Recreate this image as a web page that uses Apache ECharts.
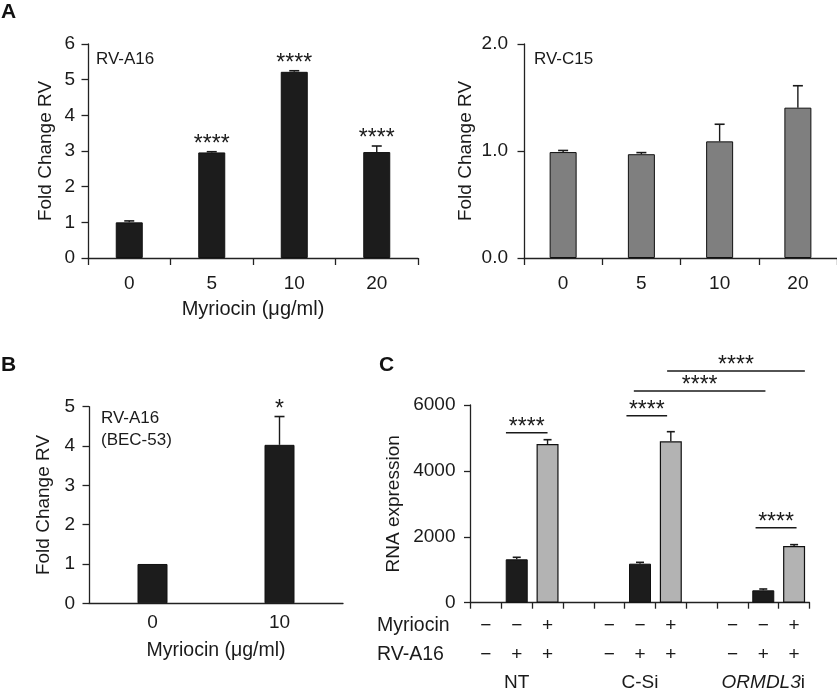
<!DOCTYPE html>
<html><head><meta charset="utf-8">
<script src="https://cdn.jsdelivr.net/npm/echarts@6/dist/echarts.min.js"></script>
<style>html,body{margin:0;padding:0;background:#fff}#c{width:837px;height:695px}</style>
</head><body><div id="c"></div>
<script>
// ---- Panel A (left): RV-A16 ----
const doseA = ['0', '5', '10', '20'];
const a16Mean = [1.0, 2.96, 5.22, 2.97];
const a16ErrTop = [1.04, 2.98, 5.25, 3.14];
const a16Sig = ['', '****', '****', '****'];
// ---- Panel A (right): RV-C15 ----
const c15Mean = [0.99, 0.97, 1.09, 1.405];
const c15ErrTop = [1.005, 0.985, 1.25, 1.61];
// ---- Panel B: RV-A16 (BEC-53) ----
const doseB = ['0', '10'];
const becMean = [1.0, 4.03];
const becErrTop = [1.0, 4.75];
const becSig = ['', '*'];
// ---- Panel C: RNA expression ----
const cCats = ['NT-a', 'NT-b', 'NT-c', 'gap1', 'CSi-a', 'CSi-b', 'CSi-c', 'gap2', 'OR-a', 'OR-b', 'OR-c'];
const myriocinRow = ['−', '−', '+', '', '−', '−', '+', '', '−', '−', '+'];
const rvRow = ['−', '+', '+', '', '−', '+', '+', '', '−', '+', '+'];
const groupRow = ['', 'NT', '', '', '', 'C-Si', '', '', '', 'ORMDL3', ''];
const rnaNoMyr = [null, 1317, null, null, null, 1184, null, null, null, 376, null];
const rnaNoMyrErrTop = [null, 1378, null, null, null, 1225, null, null, null, 416, null];
const rnaMyr = [null, null, 4816, null, null, null, 4898, null, null, null, 1721];
const rnaMyrErrTop = [null, null, 4947, null, null, null, 5190, null, null, null, 1762];
// significance brackets: [from category pos, to category pos, y value, label]
const brackets = [
  [0.65, 2.0, 5160, '****'],
  [4.56, 5.88, 5675, '****'],
  [4.8, 9.07, 6425, '****'],
  [5.88, 10.35, 7032, '****'],
  [8.75, 10.08, 2276, '****']
];

const FONT = "'Liberation Sans', Arial, sans-serif";
const INK = '#1a1a1a';
const AX = '#222';
const STAR_SIZE = 23;

function xAx(grid, data, opts) {
  return Object.assign({
    type: 'category', gridIndex: grid, data: data,
    axisLine: { show: true, lineStyle: { color: AX, width: 1.3 } },
    axisTick: { show: true, length: 7, lineStyle: { color: AX, width: 1.3 } },
    axisLabel: { interval: 0, fontSize: 19, color: INK, fontFamily: FONT, margin: 16 },
    splitLine: { show: false }
  }, opts || {});
}
function yAx(grid, min, max, interval, name, gap, opts) {
  return Object.assign({
    type: 'value', gridIndex: grid, min: min, max: max, interval: interval,
    name: name, nameLocation: 'middle', nameGap: gap,
    nameTextStyle: { fontSize: 19, color: INK, fontFamily: FONT },
    axisLine: { show: true, lineStyle: { color: AX, width: 1.3 } },
    axisTick: { show: true, length: 6.5, lineStyle: { color: AX, width: 1.3 } },
    axisLabel: { fontSize: 19, color: INK, fontFamily: FONT, margin: 13 },
    splitLine: { show: false }
  }, opts || {});
}

function errSeries(xi, yi, means, tops, sigs, capHalf) {
  const data = [];
  means.forEach((m, i) => { if (m != null && tops[i] != null) data.push([i, m, tops[i], i]); });
  return {
    type: 'custom', xAxisIndex: xi, yAxisIndex: yi, clip: false, z: 5,
    data: data,
    renderItem: function (params, api) {
      const x = api.value(0), v = api.value(1), e = api.value(2), idx = api.value(3);
      const p0 = api.coord([x, v]), p1 = api.coord([x, e]);
      const children = [];
      if (Math.abs(p0[1] - p1[1]) > 0.5) {
        children.push({ type: 'line', shape: { x1: p0[0], y1: p0[1], x2: p1[0], y2: p1[1] }, style: { stroke: INK, lineWidth: 1.4 } });
        children.push({ type: 'line', shape: { x1: p1[0] - capHalf, y1: p1[1], x2: p1[0] + capHalf, y2: p1[1] }, style: { stroke: INK, lineWidth: 1.6 } });
      }
      const s = sigs ? sigs[idx] : '';
      if (s) {
        children.push({ type: 'text', x: p1[0], y: p1[1] - 7, style: { text: s, fontSize: STAR_SIZE, fontFamily: FONT, fill: INK, align: 'center', verticalAlign: 'middle' } });
      }
      return { type: 'group', children: children };
    }
  };
}

const chart = echarts.init(document.getElementById('c'), null, { renderer: 'canvas' });
const option = {
  backgroundColor: '#fff',
  animation: false,
  textStyle: { fontFamily: FONT },
  grid: [
    { left: 88, top: 44, width: 330, height: 214 },
    { left: 524, top: 44, width: 313, height: 214 },
    { left: 89, top: 406.7, width: 254, height: 196.6 },
    { left: 470.5, top: 405, width: 339, height: 197.7 }
  ],
  xAxis: [
    xAx(0, doseA, { name: 'Myriocin (μg/ml)', nameLocation: 'middle', nameGap: 41, nameTextStyle: { fontSize: 20, color: INK, fontFamily: FONT } }),
    xAx(1, doseA),
    xAx(2, doseB, { axisTick: { show: false }, axisLabel: { interval: 0, fontSize: 19, color: INK, fontFamily: FONT, margin: 10 }, name: 'Myriocin (μg/ml)', nameLocation: 'middle', nameGap: 37, nameTextStyle: { fontSize: 19.5, color: INK, fontFamily: FONT } }),
    xAx(3, cCats, {
      axisTick: { show: true, length: 6, lineStyle: { color: AX, width: 1.3 } },
      axisLabel: {
        interval: 0, margin: 9, color: INK, fontFamily: FONT, fontSize: 19,
        formatter: function (val, i) {
          const m = myriocinRow[i] || ' ', r = rvRow[i] || ' ', g = groupRow[i];
          let third = '{g| }';
          if (g === 'ORMDL3') third = '{gi|ORMDL3}{g|i}';
          else if (g) third = '{g|' + g + '}';
          return '{a|' + m + '}\n{a|' + r + '}\n' + third;
        },
        rich: {
          a: { fontSize: 19, lineHeight: 29, fontFamily: FONT, color: INK },
          g: { fontSize: 19, lineHeight: 27, fontFamily: FONT, color: INK },
          gi: { fontSize: 19, lineHeight: 27, fontFamily: FONT, color: INK, fontStyle: 'italic' }
        }
      }
    })
  ],
  yAxis: [
    yAx(0, 0, 6, 1, 'Fold Change RV', 33),
    yAx(1, 0, 2, 1, 'Fold Change RV', 49, { axisLabel: { fontSize: 19, color: INK, fontFamily: FONT, margin: 16, formatter: v => v.toFixed(1) } }),
    yAx(2, 0, 5, 1, 'Fold Change RV', 36, { axisLabel: { fontSize: 19, color: INK, fontFamily: FONT, margin: 14 } }),
    yAx(3, 0, 6000, 2000, 'RNA expression', 67, { axisLabel: { fontSize: 19, color: INK, fontFamily: FONT, margin: 15, formatter: v => String(v) } })
  ],
  graphic: [
    { type: 'text', left: 1, top: 2, style: { text: 'A', fontSize: 21, fontWeight: 'bold', fontFamily: FONT, fill: '#111' } },
    { type: 'text', left: 1, top: 355, style: { text: 'B', fontSize: 21, fontWeight: 'bold', fontFamily: FONT, fill: '#111' } },
    { type: 'text', left: 379, top: 355, style: { text: 'C', fontSize: 21, fontWeight: 'bold', fontFamily: FONT, fill: '#111' } },
    { type: 'text', left: 96, top: 51, style: { text: 'RV-A16', fontSize: 17, fontFamily: FONT, fill: INK } },
    { type: 'text', left: 534, top: 51, style: { text: 'RV-C15', fontSize: 17, fontFamily: FONT, fill: INK } },
    { type: 'text', left: 101, top: 407, style: { text: 'RV-A16\n(BEC-53)', fontSize: 17, lineHeight: 22, fontFamily: FONT, fill: INK } },
    { type: 'text', left: 377, top: 616, style: { text: 'Myriocin', fontSize: 19.5, fontFamily: FONT, fill: INK } },
    { type: 'text', left: 377, top: 645, style: { text: 'RV-A16', fontSize: 19.5, fontFamily: FONT, fill: INK } }
  ],
  series: [
    { type: 'bar', xAxisIndex: 0, yAxisIndex: 0, data: a16Mean, barWidth: 27, itemStyle: { color: '#1c1c1c', borderColor: '#111', borderWidth: 1 } },
    errSeries(0, 0, a16Mean, a16ErrTop, a16Sig, 5),
    { type: 'bar', xAxisIndex: 1, yAxisIndex: 1, data: c15Mean, barWidth: 27, itemStyle: { color: '#7f7f7f', borderColor: '#111', borderWidth: 1 } },
    errSeries(1, 1, c15Mean, c15ErrTop, null, 5),
    { type: 'bar', xAxisIndex: 2, yAxisIndex: 2, data: becMean, barWidth: 30, itemStyle: { color: '#1c1c1c', borderColor: '#111', borderWidth: 1 } },
    errSeries(2, 2, becMean, becErrTop, becSig, 5),
    { type: 'bar', xAxisIndex: 3, yAxisIndex: 3, data: rnaNoMyr, barWidth: 22, barGap: '-100%', itemStyle: { color: '#1c1c1c', borderColor: '#111', borderWidth: 1 } },
    { type: 'bar', xAxisIndex: 3, yAxisIndex: 3, data: rnaMyr, barWidth: 22, barGap: '-100%', itemStyle: { color: '#b3b3b3', borderColor: '#111', borderWidth: 1.2 } },
    errSeries(3, 3, rnaNoMyr, rnaNoMyrErrTop, null, 4),
    errSeries(3, 3, rnaMyr, rnaMyrErrTop, null, 4),
    {
      type: 'custom', xAxisIndex: 3, yAxisIndex: 3, clip: false, z: 6,
      data: brackets.map((b, i) => [b[0], b[1], b[2], i]),
      renderItem: function (params, api) {
        const f1 = api.value(0), f2 = api.value(1), y = api.value(2), idx = api.value(3);
        const bw = api.size([1, 0])[0];
        const c0 = api.coord([0, y]);
        const x1 = c0[0] + f1 * bw, x2 = c0[0] + f2 * bw;
        return {
          type: 'group', children: [
            { type: 'line', shape: { x1: x1, y1: c0[1], x2: x2, y2: c0[1] }, style: { stroke: INK, lineWidth: 1.4 } },
            { type: 'text', x: (x1 + x2) / 2, y: c0[1] - 5, style: { text: brackets[idx][3], fontSize: STAR_SIZE, fontFamily: FONT, fill: INK, align: 'center', verticalAlign: 'middle' } }
          ]
        };
      }
    }
  ]
};
chart.setOption(option);
</script>
</body></html>
